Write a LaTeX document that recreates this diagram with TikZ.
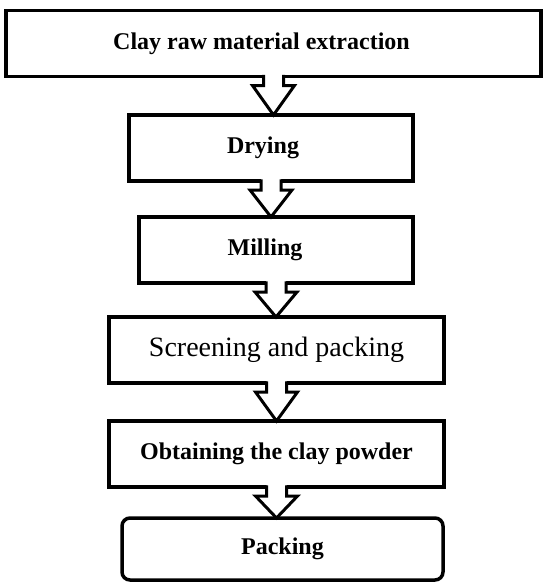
\documentclass[tikz,border=0pt]{standalone}
\usepackage{fontspec}
\setmainfont{Liberation Serif}
\usetikzlibrary{calc}

\begin{document}
\begin{tikzpicture}[x=1pt,y=-1pt,
  stage/.style={draw, line width=3.5pt, fill=white, outer sep=0pt, inner sep=0pt,
    minimum height=66pt, font=\fontsize{24}{28}\selectfont\bfseries},
  flow/.style={line width=3pt, line join=miter}]
  \useasboundingbox (0,0) rectangle (550,587);
  \node[stage, minimum width=535pt] (ext) at (273.5,43.5) {Clay raw material extraction\hspace*{24pt}};
  \node[stage, minimum width=284pt] (dry) at (271,148) {Drying\hspace*{16pt}};
  \node[stage, minimum width=274pt] (mill) at (276,250) {Milling\hspace*{22pt}};
  \node[stage, minimum width=335pt, font=\fontsize{28}{32}\selectfont] (screen) at (276.5,350) {Screening and packing};
  \node[stage, minimum width=335pt] (powder) at (276.5,454) {Obtaining the clay powder};
  \node[stage, minimum width=321pt, minimum height=62pt, rounded corners=8pt] (pack) at (282.5,549) {Packing};
  % hollow block arrows between the stages
  \foreach \a/\b in {ext/dry, dry/mill, mill/screen, screen/powder, powder/pack} {
    \fill[white] ($(\a.south)+(-10,-2)$) -- ($(\a.south)+(-10,9)$) -- ++(-11,0)
      -- (\a.south |- \b.north) -- ($(\a.south)+(21,9)$) -- ++(-11,0) -- ++(0,-11) -- cycle;
    \draw[flow] ($(\a.south)+(-10,-1.75)$) -- ($(\a.south)+(-10,9)$) -- ++(-11,0)
      -- (\a.south |- \b.north) -- ($(\a.south)+(21,9)$) -- ++(-11,0) -- ++(0,-10.75);
  }
\end{tikzpicture}
\end{document}
